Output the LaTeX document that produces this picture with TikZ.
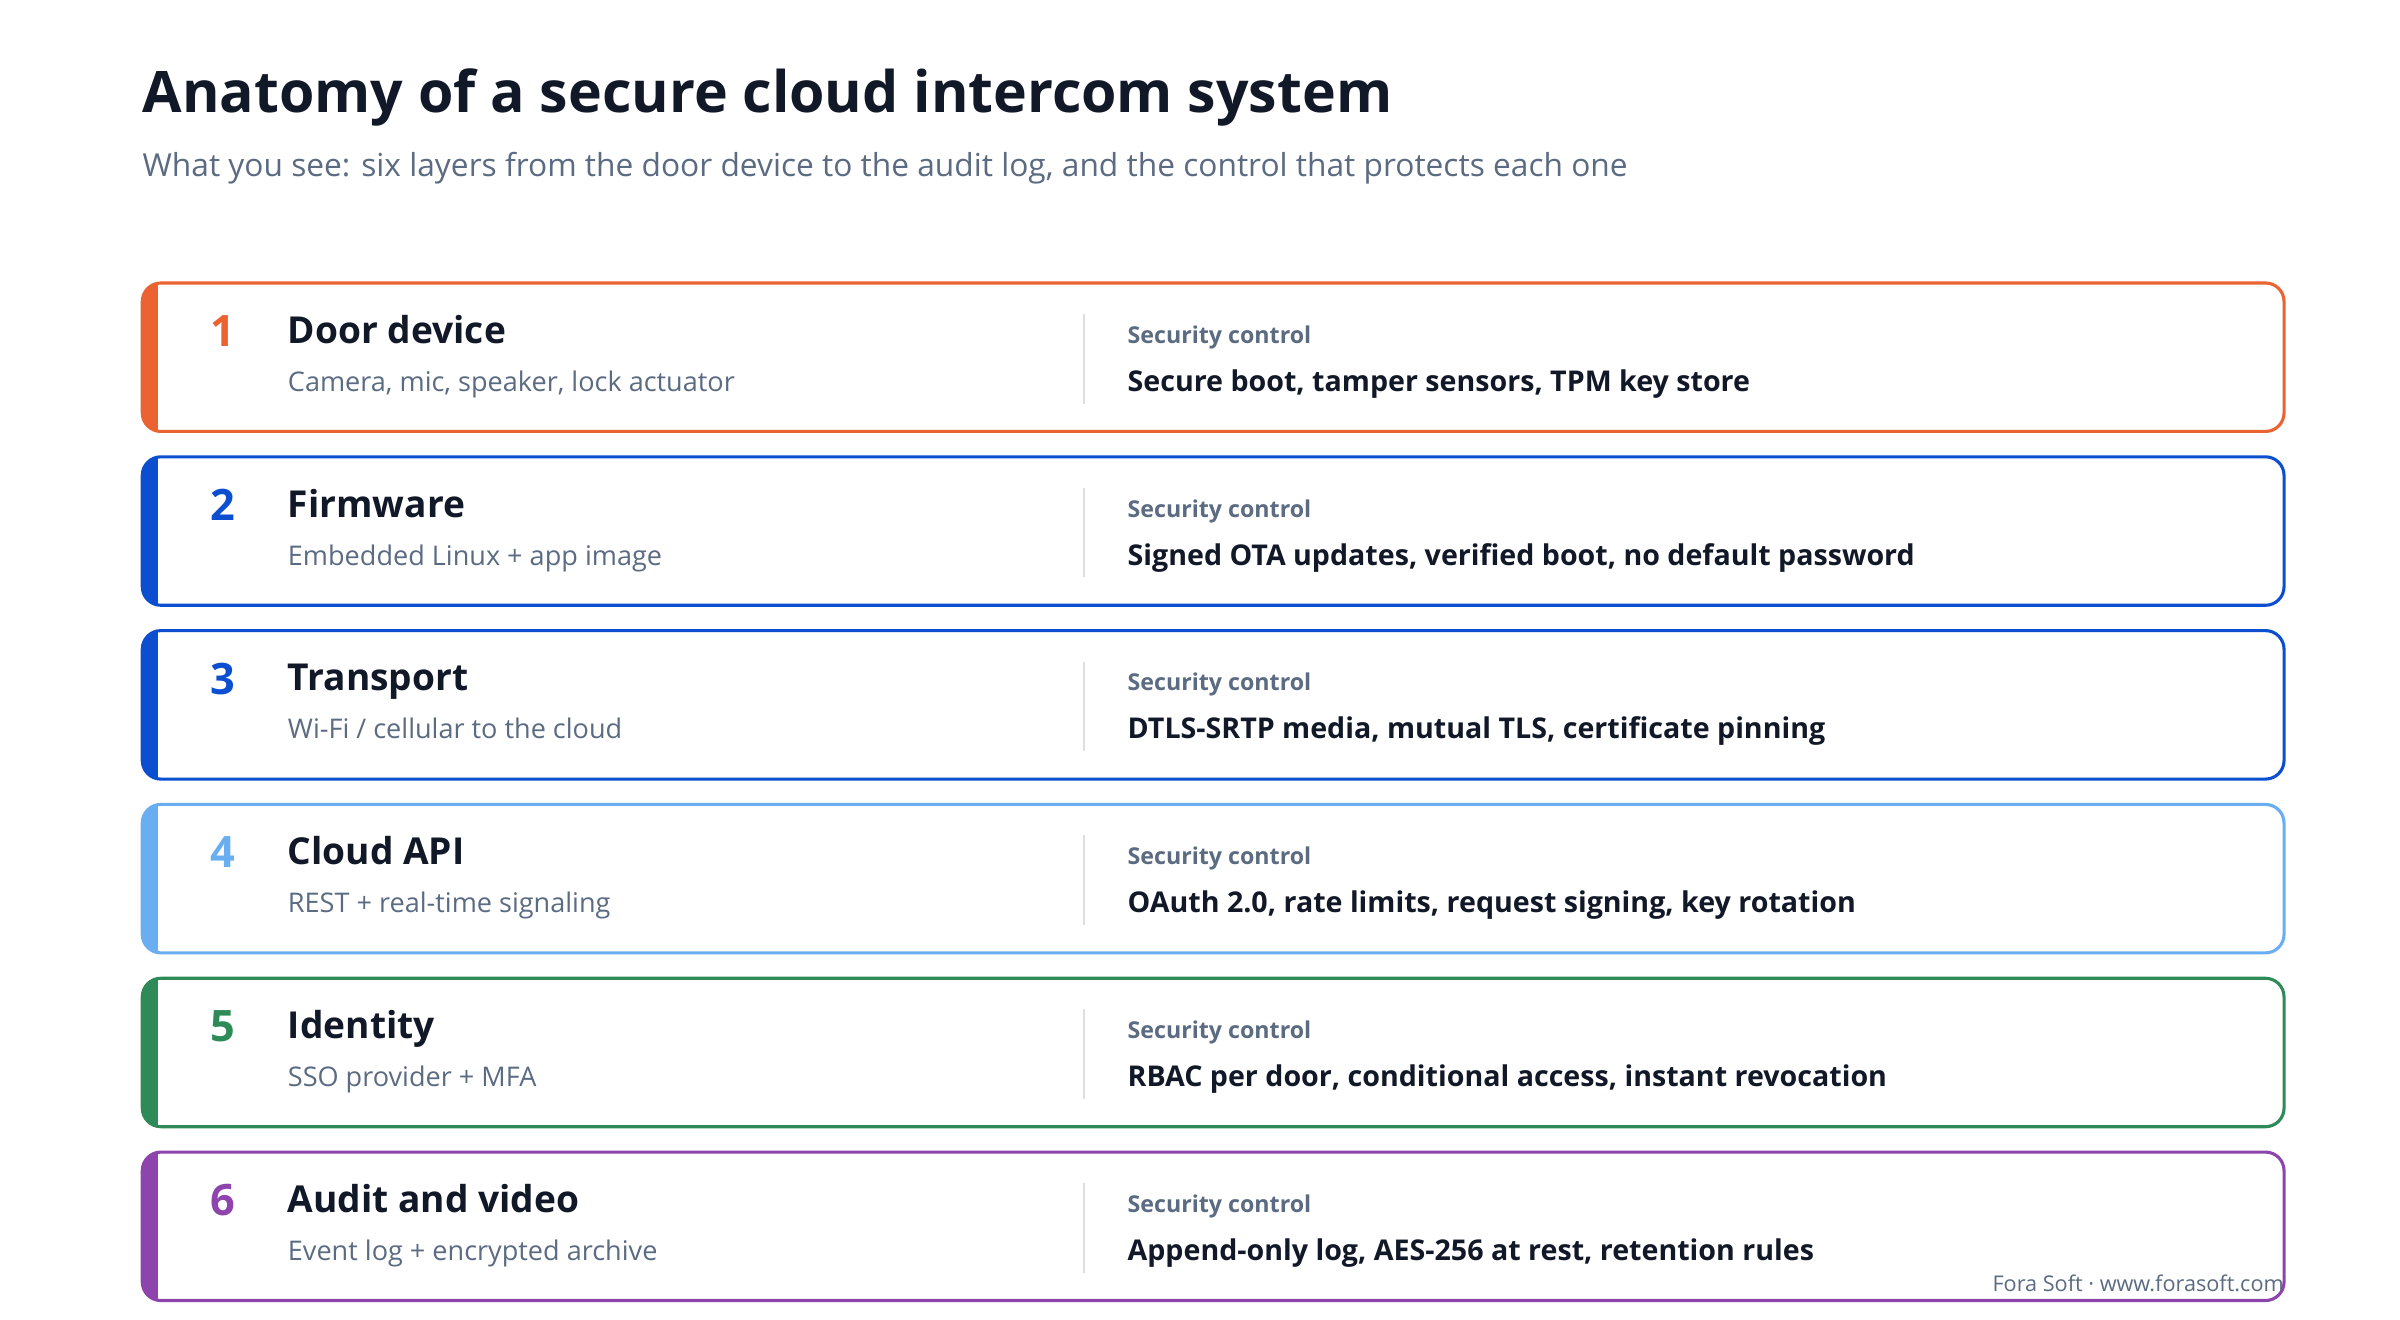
\documentclass[tikz,border=0pt]{standalone}
\usepackage{fontspec}
\setmainfont{Open Sans}
\definecolor{ink}{HTML}{111827}
\definecolor{sub}{HTML}{5B6B82}
\definecolor{cA}{HTML}{EA6331}
\definecolor{cB}{HTML}{0B4FD0}
\definecolor{cC}{HTML}{0B4FD0}
\definecolor{cD}{HTML}{6AAEF2}
\definecolor{cE}{HTML}{2E8B57}
\definecolor{cF}{HTML}{8E44AD}
\begin{document}
\begin{tikzpicture}[x=1pt,y=-1pt,
  ttl/.style={anchor=base west,inner sep=0,text=ink,font=\fontsize{24}{28}\selectfont\bfseries},
  desc/.style={anchor=base west,inner sep=0,text=sub,font=\fontsize{17.5}{20}\selectfont},
  num/.style={anchor=base,inner sep=0,font=\fontsize{28}{30}\selectfont\bfseries},
  sc/.style={anchor=base west,inner sep=0,text=sub,font=\fontsize{15}{18}\selectfont\bfseries},
  ctl/.style={anchor=base west,inner sep=0,text=ink,font=\fontsize{18.5}{22}\selectfont\bfseries}]
\useasboundingbox[fill=white] (0,0) rectangle (1552,853.6);
\node[anchor=base west,inner sep=0,text=ink,font=\fontsize{37}{42}\selectfont\bfseries] (title) at (92,73) {Anatomy of a secure cloud intercom system};
\node[anchor=base west,inner sep=0,text=sub,font=\fontsize{20.5}{24}\selectfont] (subtitle) at (92,114) {What you see: six layers from the door device to the audit log, and the control that protects each one};
\foreach \i/\c/\t/\d/\k in {
 1/cA/Door device/{Camera, mic, speaker, lock actuator}/{Secure boot, tamper sensors, TPM key store},
 2/cB/Firmware/{Embedded Linux + app image}/{Signed OTA updates, verified boot, no default password},
 3/cC/Transport/{Wi-Fi / cellular to the cloud}/{DTLS-SRTP media, mutual TLS, certificate pinning},
 4/cD/Cloud API/{REST + real-time signaling}/{OAuth 2.0, rate limits, request signing, key rotation},
 5/cE/Identity/{SSO provider + MFA}/{RBAC per door, conditional access, instant revocation},
 6/cF/Audit and video/{Event log + encrypted archive}/{Append-only log, AES-256 at rest, retention rules}}{
 \pgfmathsetmacro{\y}{183+(\i-1)*112.4}
 \begin{scope}
  \clip[rounded corners=12] (92,\y) rectangle (1477,\y+96);
  \fill[\c] (90,\y-2) rectangle (102,\y+98);
 \end{scope}
 \draw[\c,line width=2,rounded corners=12] (92,\y) rectangle (1477,\y+96);
 \draw[gray!25,line width=1] (701,\y+20) -- (701,\y+78);
 \node[num,text=\c] (n\i) at (144,\y+41) {\i};
 \node[ttl] (t\i) at (186,\y+39) {\t};
 \node[desc] (d\i) at (186,\y+70) {\d};
 \node[sc] (s\i) at (729,\y+39) {Security control};
 \node[ctl] (k\i) at (729,\y+70) {\k};
}
\node[anchor=base east,inner sep=0,text=sub,font=\fontsize{14}{16}\selectfont] (foot) at (1477,835) {Fora Soft · www.forasoft.com};
\end{tikzpicture}
\end{document}
